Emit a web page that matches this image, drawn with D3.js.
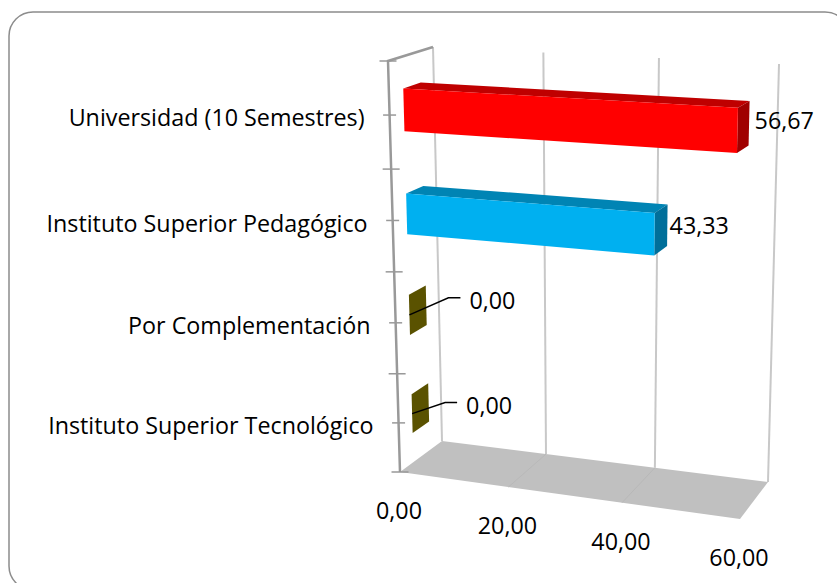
<!DOCTYPE html>
<html>
<head>
<meta charset="utf-8">
<script src="https://cdn.jsdelivr.net/npm/d3@7"></script>
<style>
  html, body { margin: 0; padding: 0; background: #fff; overflow: hidden; }
  text { font-family: "Open Sans", Lato, sans-serif; font-size: 23.3px; fill: #000; }
</style>
</head>
<body>
<script>
const categories = ['Universidad (10 Semestres)', 'Instituto Superior Pedagógico', 'Por Complementación', 'Instituto Superior Tecnológico'];
const values = [56.67, 43.33, 0, 0];
const xTicks = [0, 20, 40, 60];

const barFront = ['#ff0000', '#00b0f0', '#5a5200', '#5a5200'];
const barTop = ['#bf0000', '#0084b4', '#5a5200', '#5a5200'];
const barSide = ['#a00000', '#006f9a', '#5a5200', '#5a5200'];

let width = 837;
let height = 583;

// corners of the 3d box as seen on screen (front/back, top/bottom, left/right)
let box = {
  flt: [388, 61], frt: [750, 80], flb: [400, 472], frb: [740, 519],
  blt: [433, 47], brt: [779, 64], blb: [442, 441], brb: [768, 482]
};

// where each value label sits, relative to its bar (placed by hand in the original too)
let labelNudge = [[5, 20], [2, 21], [0, 0], [0, 0]];
let leaderNudge = [null, null, [39, -17], [33, -11]];

// the piecewise ranges stand in for the perspective foreshortening
let x = d3.scaleLinear().domain(xTicks).range([0, 0.319, 0.653, 1]);
let band = d3.scaleBand().domain(categories).range([0, 1]).paddingInner(0.6).paddingOuter(0.3);
let y = d3.scaleLinear().domain([0, 0.25, 0.5, 0.75, 1]).range([0, 0.263, 0.513, 0.761, 1]);

function mix(a, b, t) {
  return [a[0] + (b[0] - a[0]) * t, a[1] + (b[1] - a[1]) * t];
}

// u along the value axis, v down the category axis, w into the depth
function project(u, v, w) {
  let top = mix(mix(box.flt, box.frt, u), mix(box.blt, box.brt, u), w);
  let bottom = mix(mix(box.flb, box.frb, u), mix(box.blb, box.brb, u), w);
  return mix(top, bottom, v);
}

function poly(points) {
  return d3.line()(points) + 'Z';
}

let svg = d3.select('body').append('svg')
    .attr('width', width)
    .attr('height', height)
    .style('display', 'block');

// outer frame, runs off the right and bottom of the picture
svg.append('rect')
    .attr('x', 9)
    .attr('y', 12)
    .attr('width', 840)
    .attr('height', 578)
    .attr('rx', 24)
    .attr('fill', '#fff')
    .attr('stroke', '#8c8c8c')
    .attr('stroke-width', 1.5);

// floor
svg.append('path')
    .attr('d', poly([project(0, 1, 0), project(1, 1, 0), project(1, 1, 1), project(0, 1, 1)]))
    .attr('fill', '#c0c0c0');

// gridlines on the back wall and across the floor
xTicks.forEach(function (t) {
  let top = project(x(t), 0, 1);
  let bottom = project(x(t), 1, 1);
  svg.append('line')
      .attr('x1', top[0]).attr('y1', top[1])
      .attr('x2', bottom[0]).attr('y2', bottom[1])
      .attr('stroke', '#c8c8c8')
      .attr('stroke-width', 2);
  if (t > 0 && t < 60) {
    let front = project(x(t), 1, 0);
    svg.append('line')
        .attr('x1', bottom[0]).attr('y1', bottom[1])
        .attr('x2', front[0]).attr('y2', front[1])
        .attr('stroke', '#b8b8b8')
        .attr('stroke-width', 1);
  }
});

// category axis
let axisTop = project(0, 0, 0);
let axisBottom = project(0, 1, 0);
let wallTop = project(0, 0, 1);
svg.append('path')
    .attr('d', d3.line()([wallTop, axisTop, axisBottom]))
    .attr('fill', 'none')
    .attr('stroke', '#999')
    .attr('stroke-width', 2.5);

d3.range(0, 1.01, 0.125).forEach(function (t, i) {
  let p = project(0, y(t), 0);
  let reach = i % 2 === 0 ? 8.5 : 6.5;
  svg.append('line')
      .attr('x1', p[0] - reach).attr('y1', p[1])
      .attr('x2', p[0] + reach).attr('y2', p[1])
      .attr('stroke', '#999')
      .attr('stroke-width', 1.5);
});

// category labels
categories.forEach(function (c) {
  let p = project(0, y(band(c) + band.bandwidth() / 2), 0);
  svg.append('text')
      .attr('x', p[0] - 25)
      .attr('y', p[1] + 3)
      .attr('dy', '0.35em')
      .attr('text-anchor', 'end')
      .text(c);
});

// value labels under the floor
xTicks.forEach(function (t) {
  let p = project(x(t), 1, 0);
  svg.append('text')
      .attr('x', p[0] - 1)
      .attr('y', p[1] + 39)
      .attr('dy', '0.35em')
      .attr('text-anchor', 'middle')
      .text(t.toFixed(2).replace('.', ','));
});

// bars, each one a front, a top and an end face
const w0 = 0.32;
const w1 = 0.71;
categories.forEach(function (c, i) {
  let u = x(values[i]);
  let v0 = y(band(c));
  let v1 = y(band(c) + band.bandwidth());
  let g = svg.append('g').attr('class', 'bar');

  if (values[i] === 0) {
    // a zero bar only shows as its flat end
    g.append('path')
        .attr('d', poly([project(0, v0, w0), project(0, v0, w1), project(0, v1, w1), project(0, v1, w0)]))
        .attr('fill', barFront[i]);
  } else {
    g.append('path')
        .attr('d', poly([project(0, v0, w0), project(u, v0, w0), project(u, v0, w1), project(0, v0, w1)]))
        .attr('fill', barTop[i]);
    g.append('path')
        .attr('d', poly([project(u, v0, w0), project(u, v0, w1), project(u, v1, w1), project(u, v1, w0)]))
        .attr('fill', barSide[i]);
    g.append('path')
        .attr('d', poly([project(0, v0, w0), project(u, v0, w0), project(u, v1, w0), project(0, v1, w0)]))
        .attr('fill', barFront[i]);
  }

  let label = values[i].toFixed(2).replace('.', ',');
  if (values[i] === 0) {
    // leader line from the flat bar out to its label
    let start = project(0, (v0 + v1) / 2, w0);
    let elbow = [start[0] + leaderNudge[i][0], start[1] + leaderNudge[i][1]];
    let end = [elbow[0] + 12, elbow[1]];
    svg.append('path')
        .attr('d', d3.line()([start, elbow, end]))
        .attr('fill', 'none')
        .attr('stroke', '#000')
        .attr('stroke-width', 1.5);
    svg.append('text')
        .attr('x', end[0] + 9)
        .attr('y', end[1] + 3)
        .attr('dy', '0.35em')
        .text(label);
  } else {
    let p = project(u, v0, w1);
    svg.append('text')
        .attr('x', p[0] + labelNudge[i][0])
        .attr('y', p[1] + labelNudge[i][1])
        .attr('dy', '0.35em')
        .text(label);
  }
});
</script>
</body>
</html>
